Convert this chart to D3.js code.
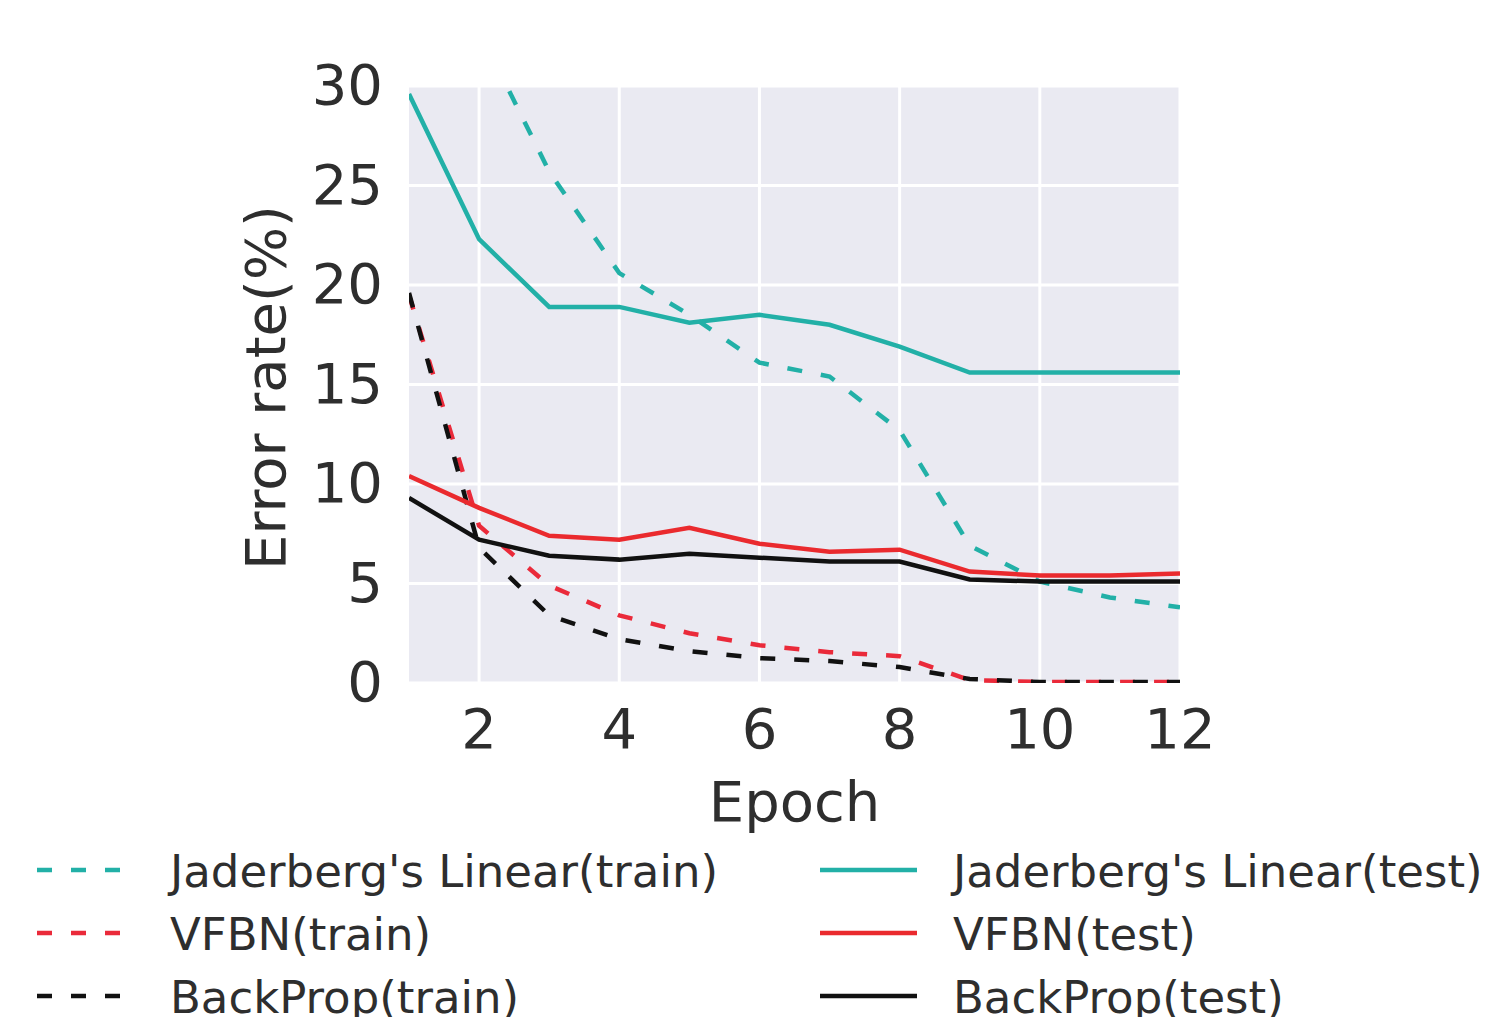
<!DOCTYPE html>
<html>
<head>
<script src='https://d3js.org/d3.v7.min.js'></script>
<style>
body {margin: 0; background: white;}
text {font-family: 'DejaVu Sans', sans-serif; fill: #2e2e2e;}
</style>
</head>
<body>
<svg id="chart" width="1491" height="1017"></svg>
<script>
// epochs and error rates (%)
var epochs = [1,2,3,4,5,6,7,8,9,10,11,12];
var jadTrain  = [null, 32.8, 25.7, 20.6, 18.5, 16.1, 15.4, 12.7, 6.9, 5.1, 4.3, 3.8];
var vfbnTrain = [19.5, 7.9, 4.9, 3.4, 2.5, 1.9, 1.55, 1.35, 0.15, 0.05, 0.05, 0.05];
var bpTrain   = [19.6, 6.8, 3.4, 2.2, 1.6, 1.25, 1.1, 0.8, 0.2, 0.05, 0.05, 0.05];
var jadTest   = [29.6, 22.3, 18.9, 18.9, 18.1, 18.5, 18.0, 16.9, 15.6, 15.6, 15.6, 15.6];
var vfbnTest  = [10.4, 8.8, 7.4, 7.2, 7.8, 7.0, 6.6, 6.7, 5.6, 5.4, 5.4, 5.5];
var bpTest    = [9.3, 7.2, 6.4, 6.2, 6.5, 6.3, 6.1, 6.1, 5.2, 5.1, 5.1, 5.1];
var xTicks = [2,4,6,8,10,12];
var yTicks = [0,5,10,15,20,25,30];

var series = [
  {name: "Jaderberg's Linear(train)", values: jadTrain, color: "#22b0a7", dash: true},
  {name: "VFBN(train)", values: vfbnTrain, color: "#ea2a3a", dash: true},
  {name: "BackProp(train)", values: bpTrain, color: "#111111", dash: true},
  {name: "Jaderberg's Linear(test)", values: jadTest, color: "#22b0a7", dash: false},
  {name: "VFBN(test)", values: vfbnTest, color: "#ea2a2e", dash: false},
  {name: "BackProp(test)", values: bpTest, color: "#111111", dash: false}
];

var svg = d3.select("#chart");
var x = d3.scaleLinear().domain([1,12]).range([409,1180]);
var y = d3.scaleLinear().domain([0,30]).range([683,86]);

svg.append("rect")
  .attr("x", x(1)).attr("y", y(30))
  .attr("width", x(12)-x(1)).attr("height", y(0)-y(30))
  .attr("fill", "#eaeaf2");

svg.append("clipPath").attr("id", "clip")
  .append("rect")
  .attr("x", x(1)).attr("y", y(30))
  .attr("width", x(12)-x(1)).attr("height", y(0)-y(30));

// grid
svg.append("g").selectAll("line").data(xTicks).enter().append("line")
  .attr("x1", function(d) { return x(d); }).attr("x2", function(d) { return x(d); })
  .attr("y1", y(30)).attr("y2", y(0))
  .attr("stroke", "white").attr("stroke-width", 3);
svg.append("g").selectAll("line").data(yTicks).enter().append("line")
  .attr("x1", x(1)).attr("x2", x(12))
  .attr("y1", function(d) { return y(d); }).attr("y2", function(d) { return y(d); })
  .attr("stroke", "white").attr("stroke-width", 3);

// tick labels
svg.append("g").selectAll("text").data(yTicks).enter().append("text")
  .attr("x", 383).attr("y", function(d) { return y(d) + 18; })
  .attr("text-anchor", "end").style("font-size", "56px")
  .text(function(d) { return d; });
svg.append("g").selectAll("text").data(xTicks).enter().append("text")
  .attr("x", function(d) { return x(d); }).attr("y", 748)
  .attr("text-anchor", "middle").style("font-size", "56px")
  .text(function(d) { return d; });

// axis titles
svg.append("text")
  .attr("x", (x(1)+x(12))/2).attr("y", 821)
  .attr("text-anchor", "middle").style("font-size", "56px")
  .text("Epoch");
svg.append("text")
  .attr("transform", "translate(285," + ((y(0)+y(30))/2 + 3) + ") rotate(-90)")
  .attr("text-anchor", "middle").style("font-size", "56px")
  .text("Error rate(%)");

// lines
var line = d3.line()
  .defined(function(d) { return d.v !== null; })
  .x(function(d) { return x(d.e); })
  .y(function(d) { return y(d.v); });

svg.append("g").attr("clip-path", "url(#clip)")
  .selectAll("path").data(series).enter().append("path")
  .attr("d", function(s) { return line(epochs.map(function(e, i) { return {e: e, v: s.values[i]}; })); })
  .attr("fill", "none")
  .attr("stroke", function(s) { return s.color; })
  .attr("stroke-width", 4.5)
  .attr("stroke-dasharray", function(s) { return s.dash ? "15,19" : null; });

// legend, two columns of three
var legend = svg.append("g").selectAll("g").data(series).enter().append("g")
  .attr("transform", function(s, i) {
    var col = Math.floor(i / 3), row = i % 3;
    return "translate(" + (col === 0 ? 37 : 820) + "," + (870 + row * 63) + ")";
  });
legend.append("line")
  .attr("x1", 0).attr("x2", function(s, i) { return i < 3 ? 87 : 97; })
  .attr("y1", 0).attr("y2", 0)
  .attr("stroke", function(s) { return s.color; })
  .attr("stroke-width", 4.5)
  .attr("stroke-dasharray", function(s) { return s.dash ? "15,19" : null; });
legend.append("text")
  .attr("x", 133)
  .attr("y", 17)
  .style("font-size", "45px")
  .text(function(s) { return s.name; });
</script>
</body>
</html>
